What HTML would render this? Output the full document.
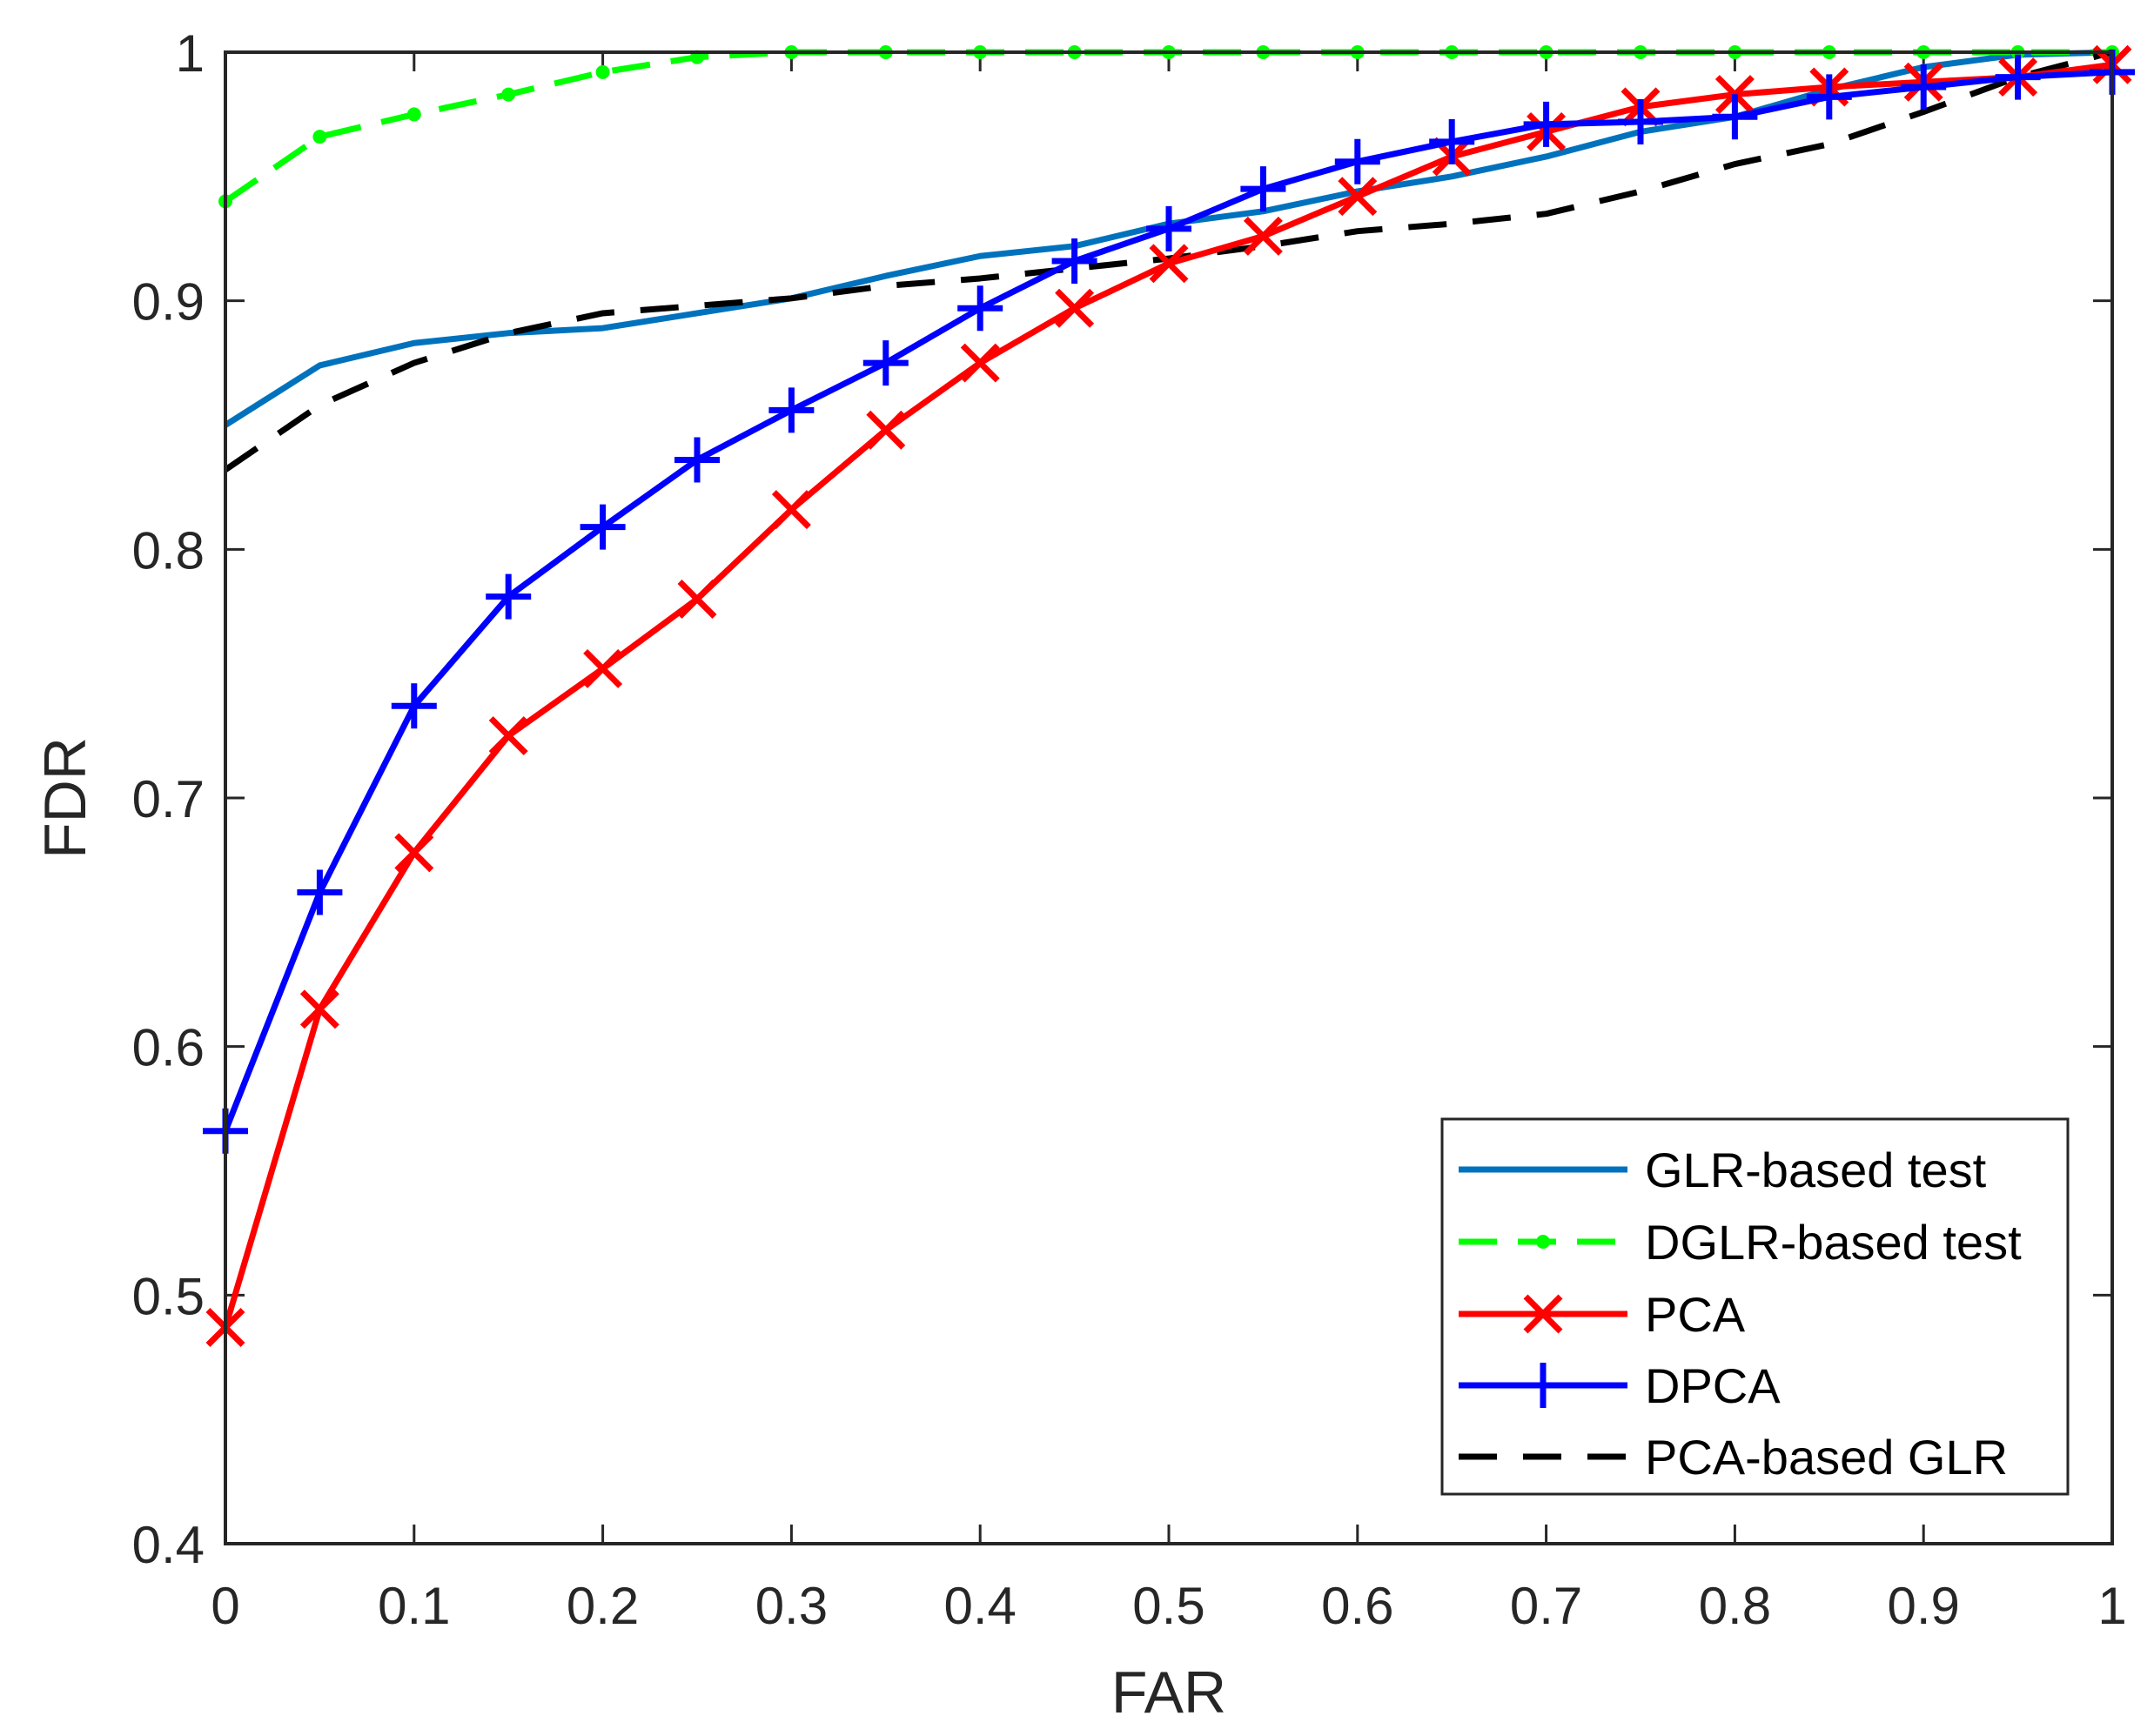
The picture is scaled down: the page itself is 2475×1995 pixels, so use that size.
<!DOCTYPE html>
<html><head><meta charset="utf-8"><style>
html,body{margin:0;padding:0;background:#fff}
svg{display:block;font-family:"Liberation Sans",Arial,sans-serif}
</style></head><body>
<svg id="chart" width="2475" height="1995" viewBox="0 0 2475 1995" xmlns="http://www.w3.org/2000/svg"></svg>
<script>
const xValues=[0,0.05,0.1,0.15,0.2,0.25,0.3,0.35,0.4,0.45,0.5,0.55,0.6,0.65,0.7,0.75,0.8,0.85,0.9,0.95,1];
const glr=[0.85,0.874,0.883,0.887,0.889,0.895,0.901,0.910,0.918,0.922,0.931,0.936,0.944,0.950,0.958,0.968,0.974,0.985,0.994,0.999,1.0];
const dglr=[0.94,0.966,0.975,0.983,0.992,0.998,1,1,1,1,1,1,1,1,1,1,1,1,1,1,1];
const pca=[0.487,0.615,0.678,0.725,0.752,0.780,0.816,0.848,0.875,0.897,0.915,0.926,0.942,0.958,0.968,0.978,0.983,0.986,0.988,0.990,0.995];
const dpca=[0.566,0.662,0.737,0.781,0.809,0.836,0.856,0.875,0.897,0.916,0.929,0.945,0.956,0.964,0.971,0.972,0.974,0.982,0.986,0.990,0.992];
const pcaGlr=[0.832,0.858,0.875,0.887,0.895,0.898,0.901,0.906,0.909,0.913,0.917,0.922,0.928,0.931,0.935,0.944,0.955,0.963,0.976,0.990,1.0];
const xTicks=[0,0.1,0.2,0.3,0.4,0.5,0.6,0.7,0.8,0.9,1];
const xTickLabels=["0","0.1","0.2","0.3","0.4","0.5","0.6","0.7","0.8","0.9","1"];
const yTicks=[0.4,0.5,0.6,0.7,0.8,0.9,1];
const yTickLabels=["0.4","0.5","0.6","0.7","0.8","0.9","1"];
const legendLabels=["GLR-based test","DGLR-based test","PCA","DPCA","PCA-based GLR"];

const L=259,R=2427,T=60,B=1774;
const sx=v=>L+(v-0)/(1-0)*(R-L);
const sy=v=>B-(v-0.4)/(1-0.4)*(B-T);
const svg=document.getElementById('chart');
const NS="http://www.w3.org/2000/svg";
function mk(tag,attrs,parent){const e=document.createElementNS(NS,tag);for(const k in attrs)e.setAttribute(k,attrs[k]);(parent||svg).appendChild(e);return e;}
const ax='#262626';
const SW=7;

function series(vals,color,dash,name){
  const g=mk('g',{});
  
  
  const pts=vals.map((v,i)=>sx(xValues[i])+','+sy(v)).join(' ');
  const p=mk('polyline',{points:pts,fill:'none',stroke:color,'stroke-width':SW,'stroke-dasharray':dash||'none','stroke-linejoin':'round'},g);
  
  
  return g;
}
function markers(g,vals,type,color,name){
  vals.forEach((v,i)=>{
    const x=sx(xValues[i]),y=sy(v);let m;
    if(type==='dot'){m=mk('circle',{cx:x,cy:y,r:8,fill:color},g);}
    else if(type==='x'){const s=20;m=mk('path',{d:`M${x-s},${y-s}L${x+s},${y+s}M${x-s},${y+s}L${x+s},${y-s}`,stroke:color,'stroke-width':SW,fill:'none'},g);}
    else {const s=26;m=mk('path',{d:`M${x-s},${y}L${x+s},${y}M${x},${y-s}L${x},${y+s}`,stroke:color,'stroke-width':SW,fill:'none'},g);}
    
    
  });
}
xTicks.forEach((t,i)=>{
  const x=sx(t);
  mk('line',{x1:x,y1:B,x2:x,y2:B-22,stroke:ax,'stroke-width':3});
  mk('line',{x1:x,y1:T,x2:x,y2:T+22,stroke:ax,'stroke-width':3});
  const tx=mk('text',{x:x,y:B+92,'font-size':60,'text-anchor':'middle',fill:ax});
  tx.textContent=xTickLabels[i];
  
  
});
yTicks.forEach((t,i)=>{
  const y=sy(t);
  mk('line',{x1:L,y1:y,x2:L+22,y2:y,stroke:ax,'stroke-width':3});
  mk('line',{x1:R,y1:y,x2:R-22,y2:y,stroke:ax,'stroke-width':3});
  const tx=mk('text',{x:L-24,y:y+22,'font-size':60,'text-anchor':'end',fill:ax});
  tx.textContent=yTickLabels[i];
  
  
});
const g1=series(glr,'#0072BD',null,'series-glr');
const g2=series(dglr,'#00FF00','44 24','series-dglr');markers(g2,dglr,'dot','#00FF00','dglr');
const g5=series(pcaGlr,'#000000','44 30','series-pca-glr');
const g3=series(pca,'#FF0000',null,'series-pca');markers(g3,pca,'x','#FF0000','pca');
const g4=series(dpca,'#0000FF',null,'series-dpca');markers(g4,dpca,'plus','#0000FF','dpca');
const box=mk('rect',{x:L,y:T,width:R-L,height:B-T,fill:'none',stroke:ax,'stroke-width':4});


const xt=mk('text',{x:(L+R)/2,y:1968,'font-size':68,'text-anchor':'middle',fill:ax});xt.textContent='FAR';


const yt=mk('text',{x:0,y:0,'font-size':68,'text-anchor':'middle',fill:ax,transform:`translate(98,${(T+B)/2}) rotate(-90)`});yt.textContent='FDR';


const lg=mk('g',{});


mk('rect',{x:1657,y:1286,width:719,height:431,fill:'#fff',stroke:ax,'stroke-width':3},lg);
const ly=[1344,1427,1510,1592,1674];
const lc=['#0072BD','#00FF00','#FF0000','#0000FF','#000000'];
const ld=[null,'44 24',null,null,'44 30'];
const lm=[null,'dot','x','plus',null];
legendLabels.forEach((lab,i)=>{
  const e=mk('g',{},lg);
  
  
  mk('line',{x1:1676,y1:ly[i],x2:1870,y2:ly[i],stroke:lc[i],'stroke-width':SW,'stroke-dasharray':ld[i]||'none'},e);
  const cx=1773,cy=ly[i];
  if(lm[i]==='dot')mk('circle',{cx:cx,cy:cy,r:8,fill:lc[i]},e);
  if(lm[i]==='x')mk('path',{d:`M${cx-20},${cy-20}L${cx+20},${cy+20}M${cx-20},${cy+20}L${cx+20},${cy-20}`,stroke:lc[i],'stroke-width':SW},e);
  if(lm[i]==='plus')mk('path',{d:`M${cx-26},${cy}L${cx+26},${cy}M${cx},${cy-26}L${cx},${cy+26}`,stroke:lc[i],'stroke-width':SW},e);
  const t=mk('text',{x:1890,y:ly[i]+20,'font-size':56,fill:'#000'},e);t.textContent=lab;
});
</script>
</body></html>
